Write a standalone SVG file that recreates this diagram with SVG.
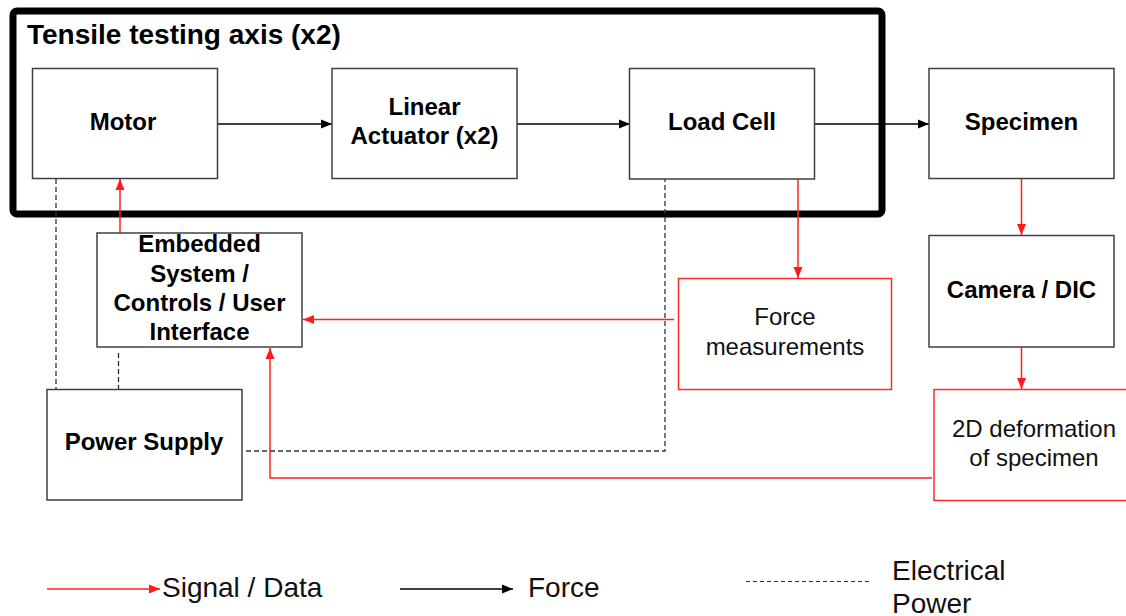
<svg xmlns="http://www.w3.org/2000/svg" width="1126" height="616" viewBox="0 0 1126 616">
  <style>
    .box { fill: #ffffff; stroke: #404040; stroke-width: 1.5; }
    .rbox { fill: #ffffff; stroke: #ff2a2a; stroke-width: 1.5; }
    .lbl { font-family: "Liberation Sans", Arial, sans-serif; font-size: 24px; font-weight: bold; fill: #000; text-anchor: middle; }
    .lblr { font-family: "Liberation Sans", Arial, sans-serif; font-size: 24px; fill: #111; text-anchor: middle; }
    .leg { font-family: "Liberation Sans", Arial, sans-serif; font-size: 28px; fill: #111; }
    .force { fill: none; stroke: #000; stroke-width: 1.5; }
    .signal { fill: none; stroke: #ff2020; stroke-width: 1.5; }
    .power { fill: none; stroke: #333; stroke-width: 1.3; stroke-dasharray: 5 3; }
  </style>
  <defs>
    <marker id="arrowBlack" markerUnits="userSpaceOnUse" markerWidth="12" markerHeight="10" refX="11" refY="5" orient="auto">
      <path d="M0,0.5 L11,5 L0,9.5 z" fill="#000"/>
    </marker>
    <marker id="arrowRed" markerUnits="userSpaceOnUse" markerWidth="12" markerHeight="10" refX="11" refY="5" orient="auto">
      <path d="M0,0.5 L11,5 L0,9.5 z" fill="#ff1a1a"/>
    </marker>
  </defs>

  <rect width="1126" height="616" fill="#ffffff"/>

  <!-- tensile testing axis frame -->
  <g id="axis-frame">
    <rect x="13" y="11" width="869" height="203" rx="4" fill="none" stroke="#000" stroke-width="7"/>
    <text x="27" y="43.5" class="lbl" style="font-size:28px;text-anchor:start">Tensile testing axis (x2)</text>
  </g>

  <!-- connectors -->
  <g id="connectors">
    <!-- force path -->
    <line class="force" x1="218" y1="124" x2="332" y2="124" marker-end="url(#arrowBlack)"/>
    <line class="force" x1="517" y1="124" x2="630" y2="124" marker-end="url(#arrowBlack)"/>
    <line class="force" x1="815" y1="124" x2="929" y2="124" marker-end="url(#arrowBlack)"/>
    <!-- signal / data -->
    <line class="signal" x1="120" y1="233" x2="120" y2="179" marker-end="url(#arrowRed)"/>
    <line class="signal" x1="798" y1="179" x2="798" y2="278" marker-end="url(#arrowRed)"/>
    <line class="signal" x1="1021.5" y1="178" x2="1021.5" y2="235" marker-end="url(#arrowRed)"/>
    <line class="signal" x1="1021.5" y1="347" x2="1021.5" y2="389" marker-end="url(#arrowRed)"/>
    <line class="signal" x1="674" y1="319.5" x2="303" y2="319.5" marker-end="url(#arrowRed)"/>
    <polyline class="signal" points="932,478 270,478 270,348" marker-end="url(#arrowRed)"/>
    <!-- electrical power -->
    <line class="power" x1="56" y1="179" x2="56" y2="389"/>
    <line class="power" x1="118.5" y1="353" x2="118.5" y2="389"/>
    <polyline class="power" points="246,451 665,451 665,179"/>
  </g>

  <g id="motor">
    <rect class="box" x="32.5" y="68.5" width="185" height="110"/>
    <text class="lbl" x="123" y="130">Motor</text>
  </g>
  <g id="linear-actuator">
    <rect class="box" x="332" y="68.5" width="185" height="110"/>
    <text class="lbl" x="424.5" y="115">Linear</text>
    <text class="lbl" x="424.5" y="144">Actuator (x2)</text>
  </g>
  <g id="load-cell">
    <rect class="box" x="629.5" y="68.5" width="185" height="110.5"/>
    <text class="lbl" x="722" y="130">Load Cell</text>
  </g>
  <g id="specimen">
    <rect class="box" x="929" y="68.5" width="185" height="110"/>
    <text class="lbl" x="1021.5" y="130">Specimen</text>
  </g>
  <g id="camera-dic">
    <rect class="box" x="929" y="235.5" width="185" height="111.5"/>
    <text class="lbl" x="1021.5" y="297.5">Camera / DIC</text>
  </g>
  <g id="embedded-system">
    <rect class="box" x="97" y="233" width="205" height="114"/>
    <text class="lbl" x="199.5" y="251.5">Embedded</text>
    <text class="lbl" x="199.5" y="281.5">System /</text>
    <text class="lbl" x="199.5" y="310.5">Controls / User</text>
    <text class="lbl" x="199.5" y="340">Interface</text>
  </g>
  <g id="power-supply">
    <rect class="box" x="47" y="389.5" width="195" height="110.5"/>
    <text class="lbl" x="144" y="450">Power Supply</text>
  </g>
  <g id="force-measurements">
    <rect class="rbox" x="678.5" y="278.5" width="213" height="111"/>
    <text class="lblr" x="785" y="325">Force</text>
    <text class="lblr" x="785" y="354.5">measurements</text>
  </g>
  <g id="deformation">
    <rect class="rbox" x="934" y="389.5" width="200" height="111"/>
    <text class="lblr" x="1034" y="436.5">2D deformation</text>
    <text class="lblr" x="1034" y="466">of specimen</text>
  </g>

  <!-- legend -->
  <g id="legend">
    <line class="signal" x1="47" y1="589" x2="160" y2="589" marker-end="url(#arrowRed)"/>
    <text class="leg" x="162" y="597">Signal / Data</text>
    <line class="force" x1="400" y1="589" x2="513" y2="589" marker-end="url(#arrowBlack)"/>
    <text class="leg" x="528" y="597">Force</text>
    <line class="power" x1="746" y1="581.5" x2="872" y2="581.5" style="stroke-dasharray:4 3;stroke-width:1.2"/>
    <text class="leg" x="892" y="579.5">Electrical</text>
    <text class="leg" x="892" y="613">Power</text>
  </g>
</svg>
